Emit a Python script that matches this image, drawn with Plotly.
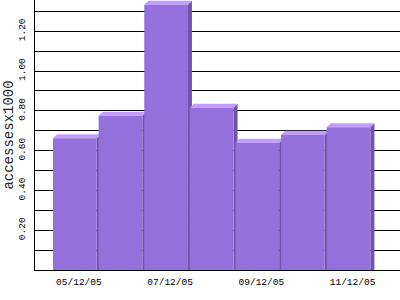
import plotly.graph_objects as go

# ---- data ----
dates = ["05/12/05", "06/12/05", "07/12/05", "08/12/05", "09/12/05", "10/12/05", "11/12/05"]
values = [0.682, 0.795, 1.353, 0.836, 0.660, 0.700, 0.737]
y_tick_vals = [0.2, 0.4, 0.6, 0.8, 1.0, 1.2]
y_tick_text = ["0.20", "0.40", "0.60", "0.80", "1.00", "1.20"]

# ---- style ----
FRONT = "#9370DB"
TOP = "#C49CFF"
SIDE = "#7153AE"
BAR_W = 0.958      # front face width (x units)
DX = 0.0877        # depth in x units (≈4 px)
DY = 0.0201        # depth in y units (≈4 px)
DY_BASE = 0.016    # front face bottom offset below baseline

fig = go.Figure()

for i, v in enumerate(values):
    xc = i - DX                # front face centre (back plane at i)
    xl = xc - BAR_W / 2
    xr = xc + BAR_W / 2
    top = v - DY
    bot = -DY_BASE
    # side face
    fig.add_trace(go.Scatter(
        x=[xr, xr, xr + DX, xr + DX, xr], y=[bot, top, v, bot + DY, bot],
        fill="toself", fillcolor=SIDE, mode="lines", line=dict(width=0),
        hoverinfo="skip", showlegend=False))
    # top face
    fig.add_trace(go.Scatter(
        x=[xl, xr, xr + DX, xl + DX, xl], y=[top, top, v, v, top],
        fill="toself", fillcolor=TOP, mode="lines", line=dict(width=0),
        hoverinfo="skip", showlegend=False))
    # front face
    fig.add_trace(go.Scatter(
        x=[xl, xr, xr, xl, xl], y=[bot, bot, top, top, bot],
        fill="toself", fillcolor=FRONT, mode="lines", line=dict(width=0),
        hoverinfo="text", text=f"{dates[i]}: {v:.2f}", showlegend=False))

tick_idx = list(range(0, len(dates), 2))

fig.update_layout(
    width=400, height=300,
    margin=dict(l=35, r=0, t=0, b=30),
    paper_bgcolor="white", plot_bgcolor="white",
    font=dict(family="Liberation Mono", color="black", size=9),
    xaxis=dict(
        range=[-0.9617, 7.04],
        tickvals=tick_idx, ticktext=[dates[i] for i in tick_idx],
        showgrid=False, zeroline=False,
        showline=True, linecolor="black", linewidth=1,
        ticks="", tickfont=dict(size=9.5, family="Liberation Mono"),
        ticklabelstandoff=3,
        layer="below traces",
    ),
    yaxis=dict(
        range=[0, 1.357],
        tickvals=y_tick_vals, ticktext=y_tick_text, tickangle=-90,
        showgrid=True, gridcolor="black", gridwidth=1,
        minor=dict(dtick=0.1, tick0=0, showgrid=True, gridcolor="black", gridwidth=1),
        zeroline=False,
        showline=True, linecolor="black", linewidth=1,
        ticks="", tickfont=dict(size=9.5, family="Liberation Mono"),
        ticklabelstandoff=5,
        title=dict(text="accessesx1000", font=dict(size=14, family="Liberation Mono", color="#222222"), standoff=0),
        layer="below traces",
    ),
)

fig.write_html("out.html")
